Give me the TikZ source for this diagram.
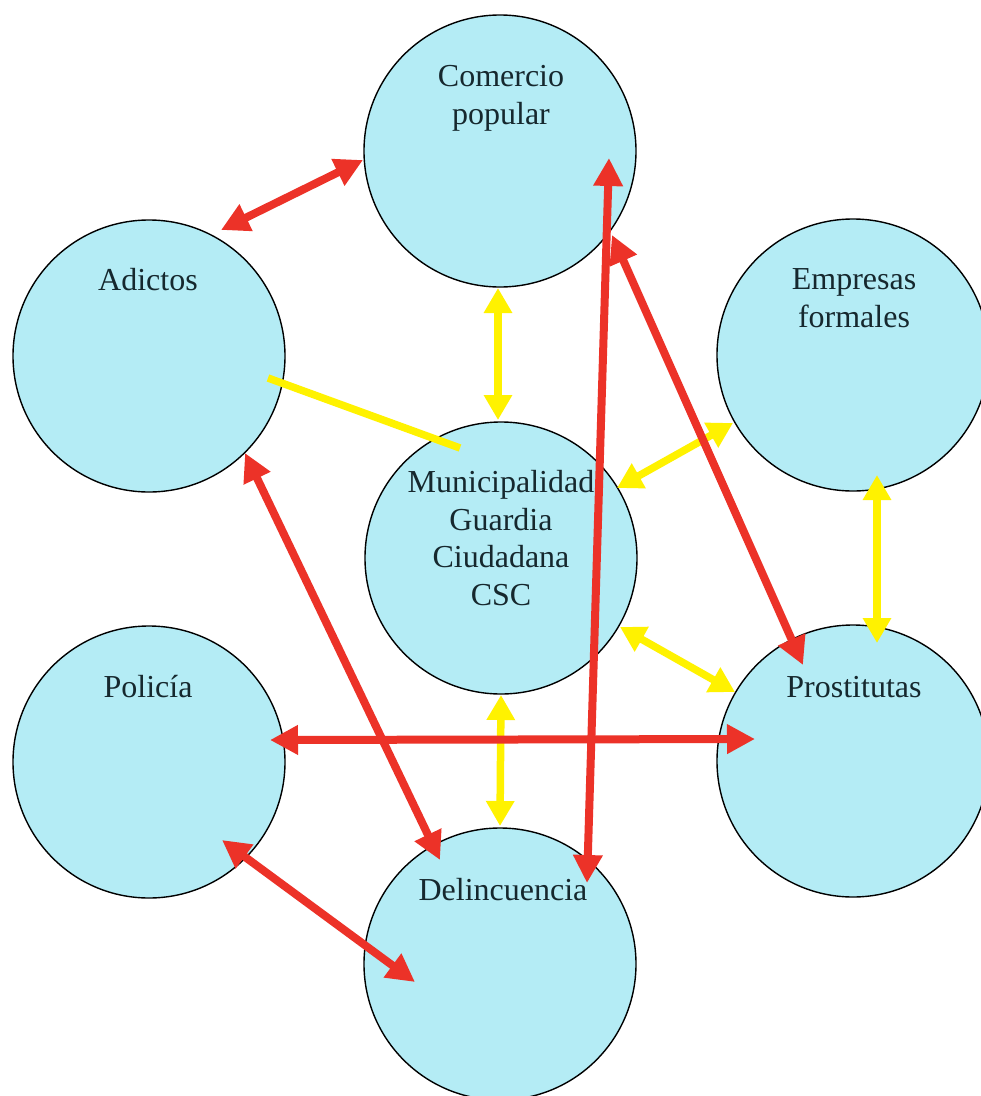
\documentclass[tikz,border=0pt]{standalone}
\usepackage{fontspec}
\setmainfont{Liberation Serif}
\usetikzlibrary{arrows.meta}
\definecolor{bub}{RGB}{180,236,245}
\definecolor{redc}{RGB}{236,50,40}
\definecolor{yelc}{RGB}{255,242,0}
\definecolor{txt}{RGB}{22,40,46}
\begin{document}
\begin{tikzpicture}[x=1pt,y=-1pt,
  bubble/.style={circle,draw=black,line width=1.4pt,fill=bub,minimum size=272pt,inner sep=0pt},
  lbl/.style={anchor=base,align=center,inner sep=0pt,text=txt,font=\fontsize{32}{37.5}\selectfont},
  redarr/.style={draw=redc,line width=8pt,{Triangle[length=28pt,width=28pt]}-{Triangle[length=28pt,width=28pt]}},
  yelarr/.style={draw=yelc,line width=7.5pt,{Triangle[length=25pt,width=27pt]}-{Triangle[length=25pt,width=27pt]}},
  yelline/.style={draw=yelc,line width=7.5pt}]
\useasboundingbox[fill=white] (0,0) rectangle (981,1096);
% bubbles
\node[bubble] (com) at (500,151) {};
\node[bubble] (adi) at (149,356) {};
\node[bubble] (emp) at (853,355) {};
\node[bubble] (mun) at (501,558) {};
\node[bubble] (pol) at (149,762) {};
\node[bubble] (pro) at (853,761) {};
\node[bubble] (del) at (500,964) {};
% labels (anchor = baseline of the last line)
\node[lbl] (comT) at (501,124) {Comercio\\popular};
\node[lbl] (adiT) at (148,290) {Adictos};
\node[lbl] (empT) at (854,327) {Empresas\\formales};
\node[lbl] (munT) at (501,605) {Municipalidad\\Guardia\\Ciudadana\\CSC};
\node[lbl] (polT) at (148,697) {Policía};
\node[lbl] (proT) at (854,697) {Prostitutas};
\node[lbl] (delT) at (503,900) {Delincuencia};
% yellow connectors
\draw[yelarr] ([shift={(-2,137)}]com.center) -- ([shift={(-3,-138)}]mun.center);
\draw[yelline] ([shift={(119,22)}]adi.center) -- ([shift={(-41,-110)}]mun.center);
\draw[yelarr] ([shift={(-120,68)}]emp.center) -- ([shift={(116,-70)}]mun.center);
\draw[yelarr] ([shift={(24,120)}]emp.center) -- ([shift={(24,-118)}]pro.center);
\draw[yelarr] ([shift={(119,69)}]mun.center) -- ([shift={(-118,-69)}]pro.center);
\draw[yelarr] ([shift={(0,137)}]mun.center) -- ([shift={(0,-138)}]del.center);
% red connectors
\draw[redarr] ([shift={(-137,9)}]com.center) -- ([shift={(72,-126)}]adi.center);
\draw[redarr] ([shift={(96,97)}]adi.center) -- ([shift={(-60,-104)}]del.center);
\draw[redarr] ([shift={(121,-22)}]pol.center) -- ([shift={(-98,-22)}]pro.center);
\draw[redarr] ([shift={(73,78)}]pol.center) -- ([shift={(-85,18)}]del.center);
\draw[redarr] ([shift={(109,7)}]com.center) -- ([shift={(87,-81)}]del.center);
\draw[redarr] ([shift={(112,84)}]com.center) -- ([shift={(-50,-96)}]pro.center);
\end{tikzpicture}
\end{document}
